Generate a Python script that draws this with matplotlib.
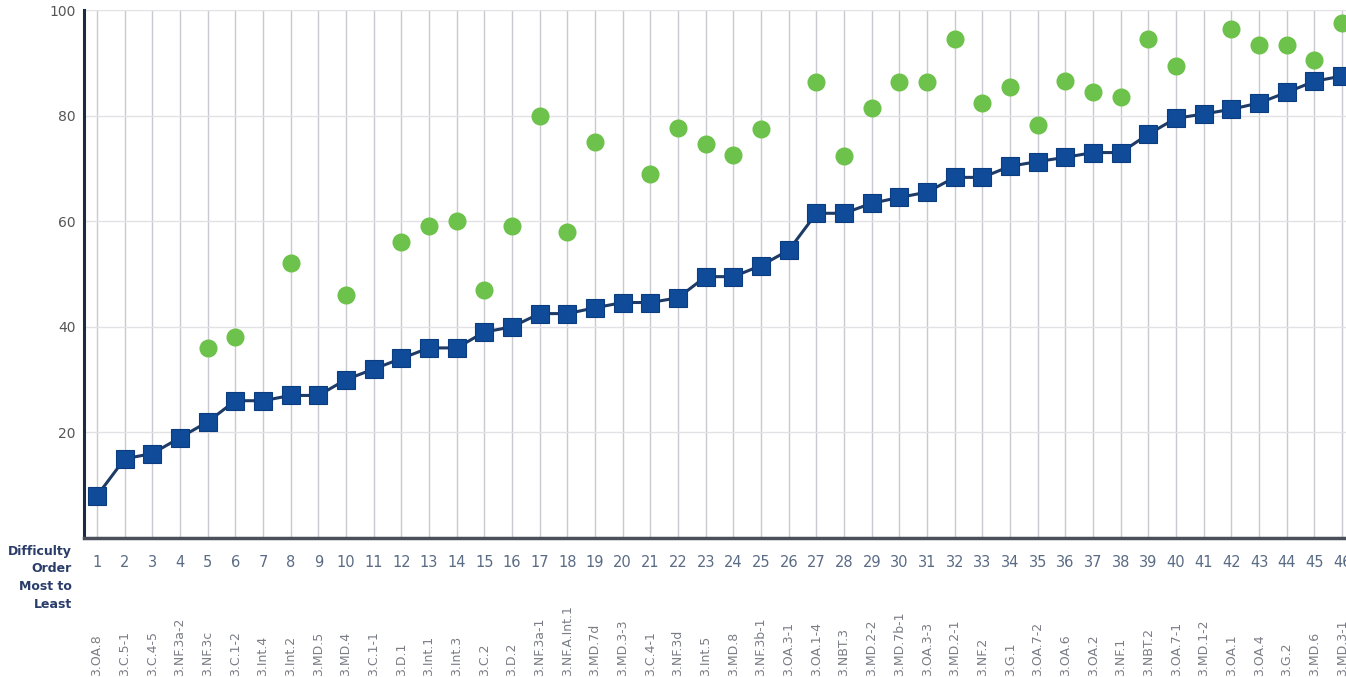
import numpy as np
import matplotlib
matplotlib.use("Agg")
import matplotlib.pyplot as plt

# difficulty order (x positions) and standard codes
order = list(range(1, 47))
codes = ["3.OA.8", "3.C.5-1", "3.C.4-5", "3.NF.3a-2", "3.NF.3c", "3.C.1-2", "3.Int.4",
         "3.Int.2", "3.MD.5", "3.MD.4", "3.C.1-1", "3.D.1", "3.Int.1", "3.Int.3",
         "3.C.2", "3.D.2", "3.NF.3a-1", "3.NF.A.Int.1", "3.MD.7d", "3.MD.3-3", "3.C.4-1",
         "3.NF.3d", "3.Int.5", "3.MD.8", "3.NF.3b-1", "3.OA.3-1", "3.OA.1-4", "3.NBT.3",
         "3.MD.2-2", "3.MD.7b-1", "3.OA.3-3", "3.MD.2-1", "3.NF.2", "3.G.1", "3.OA.7-2",
         "3.OA.6", "3.OA.2", "3.NF.1", "3.NBT.2", "3.OA.7-1", "3.MD.1-2", "3.OA.1",
         "3.OA.4", "3.G.2", "3.MD.6", "3.MD.3-1"]

# blue squares (connected line)
blue_vals = [8, 15, 16, 19, 22, 26, 26, 27, 27, 30, 32, 34, 36, 36, 39, 40, 42.5, 42.5,
             43.6, 44.6, 44.6, 45.5, 49.5, 49.5, 51.6, 54.5, 61.5, 61.5, 63.4, 64.5, 65.5,
             68.3, 68.3, 70.4, 71.3, 72.1, 73, 73, 76.5, 79.5, 80.3, 81.2, 82.4, 84.4,
             86.5, 87.5]

# green circles (only where present)
green_x = [5, 6, 8, 10, 12, 13, 14, 15, 16, 17, 18, 19, 21, 22, 23, 24, 25, 27, 28, 29,
           30, 31, 32, 33, 34, 35, 36, 37, 38, 39, 40, 42, 43, 44, 45, 46]
green_vals = [36, 38, 52, 46, 56, 59, 60, 47, 59, 80, 58, 75, 69, 77.6, 74.6, 72.5, 77.4,
              86.3, 72.3, 81.4, 86.3, 86.3, 94.5, 82.4, 85.4, 78.2, 86.5, 84.4, 83.5, 94.5,
              89.4, 96.4, 93.4, 93.4, 90.5, 97.5]

yticks = [20, 40, 60, 80, 100]

fig = plt.figure(figsize=(13.46, 6.77), dpi=100)
ax = fig.add_axes([84/1346, 139/677, 1262/1346, 528/677])

ax.set_xlim(0.53, 46.14)
ax.set_ylim(0, 100)

# grid
for xv in order:
    ax.axvline(xv, color="#c9c9cf", lw=1.0, zorder=0)
for yv in yticks:
    ax.axhline(yv, color="#e1e1e6", lw=1.0, zorder=0)

ax.plot(order, blue_vals, color="#1d3b66", lw=2.2, zorder=2)
ax.plot(order, blue_vals, ls="none", marker="s", ms=13, color="#0f4b98",
        markeredgecolor="#0b3c80", markeredgewidth=0.8, zorder=3)
ax.plot(green_x, green_vals, ls="none", marker="o", ms=12, color="#6cc24a",
        markeredgecolor="#6cc24a", zorder=3)

for s in ["top", "right"]:
    ax.spines[s].set_visible(False)
ax.spines["left"].set_color("#1c2a44")
ax.spines["left"].set_linewidth(2.2)
ax.spines["bottom"].set_color("#4a4f5a")
ax.spines["bottom"].set_linewidth(2.5)

ax.set_yticks(yticks)
ax.set_yticklabels([str(v) for v in yticks], color="#555555", fontsize=10)
ax.tick_params(axis="y", length=0, pad=6)
ax.set_xticks([])

# difficulty order numbers
for xv in order:
    ax.text(xv, -3.3, str(xv), ha="center", va="top", fontsize=10.5,
            color="#5a6b85", transform=ax.transData, clip_on=False)

# rotated standard codes, bottom aligned
for xv, c in zip(order, codes):
    ax.text(xv, -26.2, c, ha="center", va="bottom", rotation=90, fontsize=9,
            color="#7a7d85", clip_on=False)

fig.text(72/1346, 1 - 545/677, "Difficulty\nOrder\nMost to\nLeast", ha="right", va="top",
         fontsize=9, fontweight="bold", color="#2a3d6a", linespacing=1.45)

fig.savefig("out.png", dpi=100)
